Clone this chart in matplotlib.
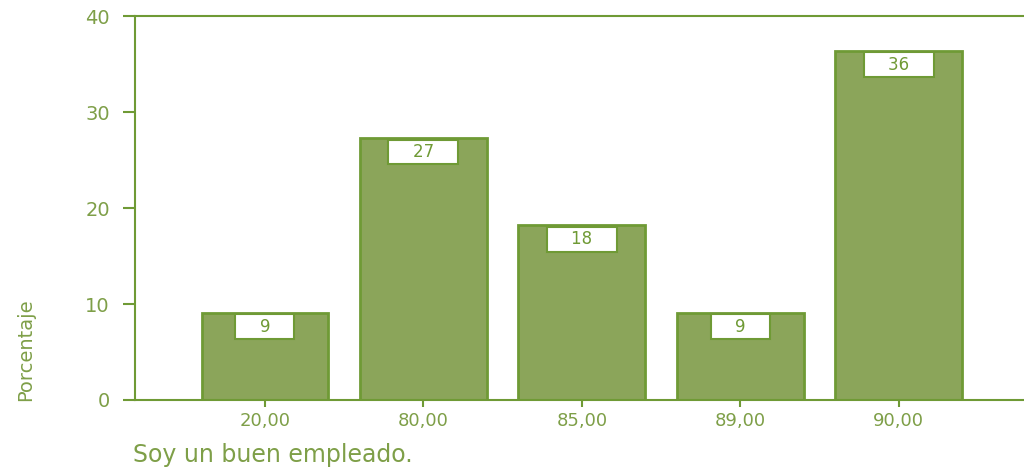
import numpy as np
import matplotlib
matplotlib.use("Agg")
import matplotlib.pyplot as plt

# categorias y porcentajes
categorias = ["20,00", "80,00", "85,00", "89,00", "90,00"]
porcentajes = [9.09, 27.27, 18.18, 9.09, 36.36]
etiquetas = ["9", "27", "18", "9", "36"]

verde_barra = "#8ba55a"
verde_borde = "#6f9a35"
verde_texto = "#7e9f48"

plt.rcParams['font.family'] = ['DejaVu Sans']

fig = plt.figure(figsize=(10.24, 4.68), dpi=100)
ax = fig.add_axes([0.1318, 0.1453, 0.8682, 0.8205])

x = np.arange(len(categorias))
ax.bar(x, porcentajes, width=0.8, color=verde_barra,
       edgecolor=verde_borde, linewidth=2, zorder=2)

for xi, v, lab in zip(x, porcentajes, etiquetas):
    ax.annotate("    " + lab + "    ", (xi, v), xytext=(0, -3.5),
                textcoords="offset points", ha="center", va="top",
                fontsize=12, color=verde_borde, zorder=3,
                bbox=dict(boxstyle="square,pad=0.2", fc="white",
                          ec=verde_borde, lw=1.5))

ax.set_xlim(-0.82, 4.79)
ax.set_ylim(0, 40)
ax.set_yticks([0, 10, 20, 30, 40])
ax.set_xticks(x)
ax.set_xticklabels(categorias)

for s in ["left", "top", "bottom"]:
    ax.spines[s].set_color(verde_borde)
    ax.spines[s].set_linewidth(1.5)
ax.spines["right"].set_visible(False)

ax.tick_params(axis="y", length=9, width=1.5, color=verde_borde,
               labelcolor=verde_texto, labelsize=14, pad=9)
ax.tick_params(axis="x", length=5, width=1.5, color=verde_borde,
               labelcolor=verde_texto, labelsize=13, pad=4)

fig.text(0.025, 1 - 401 / 468, "Porcentaje", rotation=90, ha="center",
         va="bottom", fontsize=14, color=verde_texto)
fig.text(133 / 1024, 1 - 455 / 468, "Soy un buen empleado.", ha="left",
         va="center", fontsize=17, color=verde_texto)

fig.savefig("out.png", dpi=100)
